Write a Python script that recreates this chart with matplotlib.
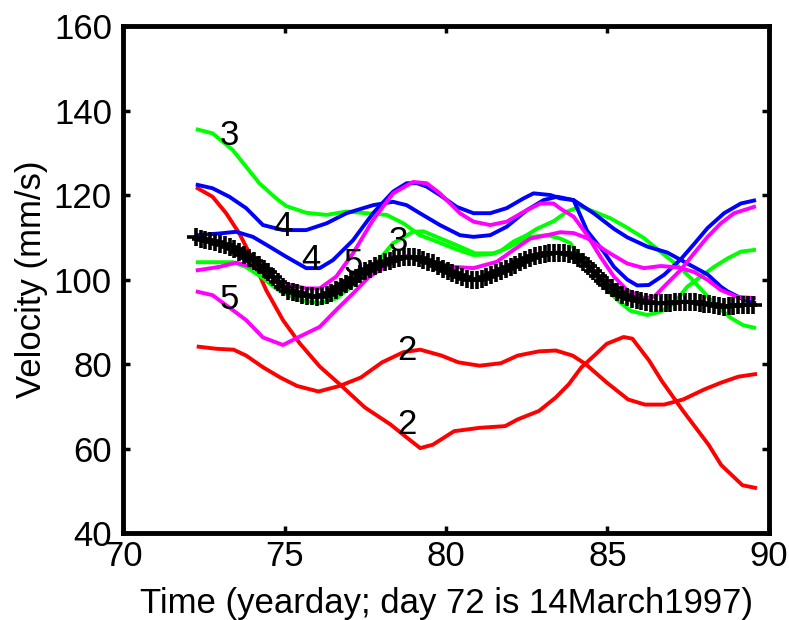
import numpy as np
import matplotlib
matplotlib.use("Agg")
import matplotlib.pyplot as plt

plt.rcParams['font.family'] = ['Liberation Sans', 'DejaVu Sans']

# Mean velocity, sampled every 0.15 day
mean_t = np.arange(72.25, 89.51, 0.15)
mean_v = [
    110.0, 109.7, 109.4, 109.1, 108.8, 108.4, 108.1, 107.8, 107.2, 106.6,
    105.9, 105.2, 104.4, 103.5, 102.6, 101.7, 100.6, 99.4, 98.2, 97.4,
    97.0, 96.7, 96.4, 96.2, 96.0, 95.9, 96.0, 96.4, 96.9, 97.5,
    98.2, 98.9, 99.6, 100.4, 101.2, 101.9, 102.6, 103.2, 103.7, 104.1,
    104.5, 104.8, 105.1, 105.3, 105.4, 105.3, 105.0, 104.6, 104.2, 103.8,
    103.2, 102.6, 102.0, 101.5, 101.0, 100.5, 100.1, 99.9, 99.9, 100.2,
    100.6, 101.0, 101.5, 102.0, 102.4, 102.9, 103.5, 104.1, 104.7, 105.2,
    105.5, 105.8, 106.0, 106.2, 106.3, 106.3, 106.2, 106.1, 105.7, 105.0,
    104.2, 103.2, 102.1, 100.9, 99.7, 98.7, 97.9, 97.1, 96.4, 95.9,
    95.4, 95.1, 94.8, 94.6, 94.5, 94.4, 94.4, 94.4, 94.5, 94.6,
    94.7, 94.7, 94.7, 94.6, 94.4, 94.2, 94.1, 93.9, 93.7, 93.6,
    93.7, 93.8, 93.9, 94.0, 94.0, 94.0,
]

# Instrument 2 (red)
red_a_t = [72.31, 72.77, 73.19, 73.6, 74.02, 74.43, 74.95, 75.47, 76.09, 76.71,
           77.49, 78.28, 78.8, 79.2, 79.59, 80.25, 81.04, 81.83, 82.22, 82.88,
           83.4, 83.8, 84.19, 84.59, 84.98, 85.5, 85.77, 86.29, 86.68, 87.34,
           88.13, 88.52, 89.18, 89.57]
red_a_v = [121.6, 119.6, 115.7, 110.9, 104.6, 97.5, 90.4, 84.9, 79.4, 75.2,
           69.7, 65.7, 62.5, 60.1, 60.9, 64.1, 64.9, 65.3, 66.9, 68.9,
           72.1, 75.2, 79.2, 82.0, 84.8, 86.4, 86.0, 80.8, 76.0, 68.9,
           60.9, 56.1, 51.3, 50.7]
red_b_t = [72.34, 72.9, 73.42, 73.81, 74.34, 74.87, 75.39, 76.05, 76.7, 77.36,
           78.02, 78.68, 79.2, 79.86, 80.38, 81.04, 81.7, 82.22, 82.88, 83.4,
           83.92, 84.32, 84.98, 85.64, 86.16, 86.75, 87.34, 88.0, 88.52, 89.05,
           89.57]
red_b_v = [84.1, 83.6, 83.4, 82.0, 79.2, 76.8, 74.8, 73.5, 74.8, 76.8,
           80.4, 82.8, 83.4, 82.0, 80.4, 79.6, 80.2, 82.0, 83.0, 83.2,
           82.0, 80.0, 75.6, 71.6, 70.4, 70.4, 71.6, 74.0, 75.6, 77.0,
           77.6]

# Instrument 3 (green)
green_a_t = [72.31, 72.77, 73.39, 73.81, 74.22, 74.74, 75.05, 75.67, 76.3, 76.92,
             77.54, 78.16, 78.68, 79.19, 79.71, 80.3, 80.85, 81.4, 81.7, 82.09,
             82.5, 82.81, 83.33, 83.75, 84.16, 84.5, 85.09, 85.6, 86.13, 86.65,
             87.16, 87.6, 87.99, 88.4, 88.82, 89.2, 89.54]
green_a_v = [135.5, 134.6, 130.7, 126.7, 122.8, 119.2, 117.4, 115.8, 115.3, 116.1,
             115.7, 115.3, 113.3, 110.5, 109.0, 107.2, 105.8, 106.0, 106.8, 109.0,
             110.5, 112.0, 113.8, 116.1, 117.3, 116.3, 114.5, 112.3, 109.8, 106.5,
             103.4, 100.2, 96.9, 93.6, 90.9, 89.2, 88.6]
green_b_t = [72.31, 72.9, 73.4, 73.8, 74.3, 74.8, 75.47, 76.09, 76.6, 77.1,
             77.74, 78.36, 78.98, 79.3, 79.71, 80.43, 80.9, 81.5, 82.0, 82.5,
             83.13, 83.54, 83.85, 84.16, 84.5, 84.99, 85.3, 85.71, 86.23, 86.65,
             87.06, 87.47, 87.89, 88.3, 88.72, 89.13, 89.54]
green_b_v = [104.1, 104.1, 104.1, 103.0, 100.5, 97.5, 95.1, 94.4, 95.5, 98.5,
             103.0, 108.6, 111.3, 111.4, 110.1, 107.8, 106.2, 106.2, 107.8, 110.0,
             110.5, 109.7, 108.6, 105.0, 102.0, 97.5, 95.2, 92.6, 91.6, 92.4,
             94.4, 98.3, 100.7, 103.0, 105.0, 106.6, 107.0]

# Instrument 4 (blue)
blue_a_t = [72.31, 72.77, 73.29, 73.81, 74.33, 74.95, 75.67, 76.3, 76.92, 77.74,
            78.36, 78.78, 79.19, 79.81, 80.43, 80.85, 81.37, 81.88, 82.5, 83.02,
            83.44, 83.95, 84.37, 84.89, 85.2, 85.61, 85.92, 86.28, 86.75, 87.27,
            87.68, 88.1, 88.61, 89.13, 89.54]
blue_a_v = [122.4, 121.6, 119.6, 116.9, 112.9, 111.7, 111.7, 113.3, 115.7, 117.6,
            118.4, 117.6, 115.7, 112.9, 110.5, 110.1, 110.5, 112.5, 116.4, 118.8,
            119.6, 118.8, 111.5, 106.5, 103.0, 100.0, 98.6, 98.7, 101.1, 104.8,
            108.4, 112.2, 115.7, 118.0, 118.7]
blue_b_t = [72.31, 72.98, 73.5, 74.02, 74.53, 75.05, 75.67, 76.09, 76.5, 77.12,
            77.74, 78.36, 78.78, 79.1, 79.4, 79.81, 80.33, 80.85, 81.37, 81.88,
            82.4, 82.71, 83.23, 83.54, 83.95, 84.57, 85.2, 85.61, 86.23, 86.85,
            87.47, 88.1, 88.51, 88.72, 89.34, 89.54]
blue_b_v = [110.5, 110.9, 111.3, 110.1, 107.8, 105.4, 102.7, 102.7, 104.6, 109.3,
            115.7, 120.8, 122.8, 122.8, 122.0, 120.0, 117.2, 115.7, 115.7, 116.9,
            119.2, 120.4, 120.0, 119.2, 118.8, 115.7, 112.0, 110.0, 107.8, 106.4,
            103.8, 101.2, 98.3, 97.2, 94.8, 94.5]

# Instrument 5 (magenta)
mag_a_t = [72.31, 72.98, 73.5, 74.0, 74.5, 75.0, 75.67, 76.09, 76.6, 77.12,
           77.74, 78.36, 78.98, 79.4, 79.81, 80.43, 80.85, 81.37, 81.88, 82.4,
           82.92, 83.33, 83.54, 83.95, 84.37, 84.78, 85.2, 85.61, 86.13, 86.44,
           86.85, 87.27, 87.68, 88.1, 88.51, 88.92, 89.54]
mag_a_v = [102.2, 103.0, 104.0, 103.0, 101.0, 99.0, 97.9, 97.9, 100.7, 106.2,
           114.1, 120.4, 123.1, 122.8, 120.4, 115.7, 113.7, 112.9, 113.7, 116.0,
           118.0, 118.0, 116.8, 114.9, 110.5, 105.4, 100.7, 97.5, 95.6, 95.9,
           99.1, 102.3, 106.2, 110.1, 113.3, 115.7, 117.2]
mag_b_t = [72.31, 72.77, 73.39, 73.81, 74.33, 74.95, 75.47, 76.09, 76.6, 77.12,
           77.6, 78.2, 78.8, 79.6, 80.23, 80.85, 81.57, 82.09, 82.61, 83.13,
           83.54, 83.95, 84.37, 84.99, 85.61, 86.13, 86.65, 87.16, 87.68, 88.1,
           88.51, 89.02, 89.54]
mag_b_v = [97.1, 96.3, 92.8, 90.4, 86.3, 84.5, 86.5, 88.8, 92.8, 96.7,
           100.5, 103.5, 105.5, 104.2, 103.0, 102.7, 104.2, 107.0, 109.7, 110.5,
           111.2, 111.0, 109.8, 106.6, 103.8, 102.7, 103.2, 102.9, 101.8, 99.9,
           97.5, 95.9, 95.6]

# Instrument number annotations: (text, time, velocity)
label_text = ["3", "4", "4", "5", "3", "5", "2", "2"]
label_t = [73.29, 74.95, 75.8, 77.12, 78.52, 73.29, 78.79, 78.79]
label_v = [134.2, 112.5, 104.8, 103.8, 109.0, 95.3, 83.3, 65.6]

x_ticks = [70, 75, 80, 85, 90]
y_ticks = [40, 60, 80, 100, 120, 140, 160]

FS = 25

fig = plt.figure(figsize=(7.89, 6.2), dpi=100)
ax = fig.add_axes([0.156, 0.1403, 0.8186, 0.8177])

lw = 2.8
ax.plot(red_a_t, red_a_v, color=(1, 0, 0), lw=lw)
ax.plot(red_b_t, red_b_v, color=(1, 0, 0), lw=lw)
ax.plot(green_a_t, green_a_v, color=(0, 1, 0), lw=lw)
ax.plot(green_b_t, green_b_v, color=(0, 1, 0), lw=lw)
ax.plot(blue_a_t, blue_a_v, color=(0, 0, 1), lw=lw)
ax.plot(blue_b_t, blue_b_v, color=(0, 0, 1), lw=lw)
ax.plot(mag_a_t, mag_a_v, color=(1, 0, 1), lw=lw)
ax.plot(mag_b_t, mag_b_v, color=(1, 0, 1), lw=lw)
ax.plot(mean_t, mean_v, color='black', lw=3, marker='+', ms=13, mew=2.6, zorder=5)

for s, t, v in zip(label_text, label_t, label_v):
    ax.text(t, v, s, fontsize=FS, ha='center', va='center', zorder=6)

ax.set_xlim(70, 90)
ax.set_ylim(40, 160)
ax.set_xticks(x_ticks)
ax.set_yticks(y_ticks)
ax.tick_params(direction='in', length=5, width=2.5, labelsize=FS,
               top=True, right=True)
ax.tick_params(axis='y', pad=8)
ax.tick_params(axis='x', pad=5)
for sp in ax.spines.values():
    sp.set_linewidth(3.5)

ax.set_xlabel('Time (yearday; day 72 is 14March1997)', fontsize=FS, labelpad=10)
ax.set_ylabel('Velocity (mm/s)', fontsize=FS, labelpad=4)

fig.savefig('out.png', dpi=100)
